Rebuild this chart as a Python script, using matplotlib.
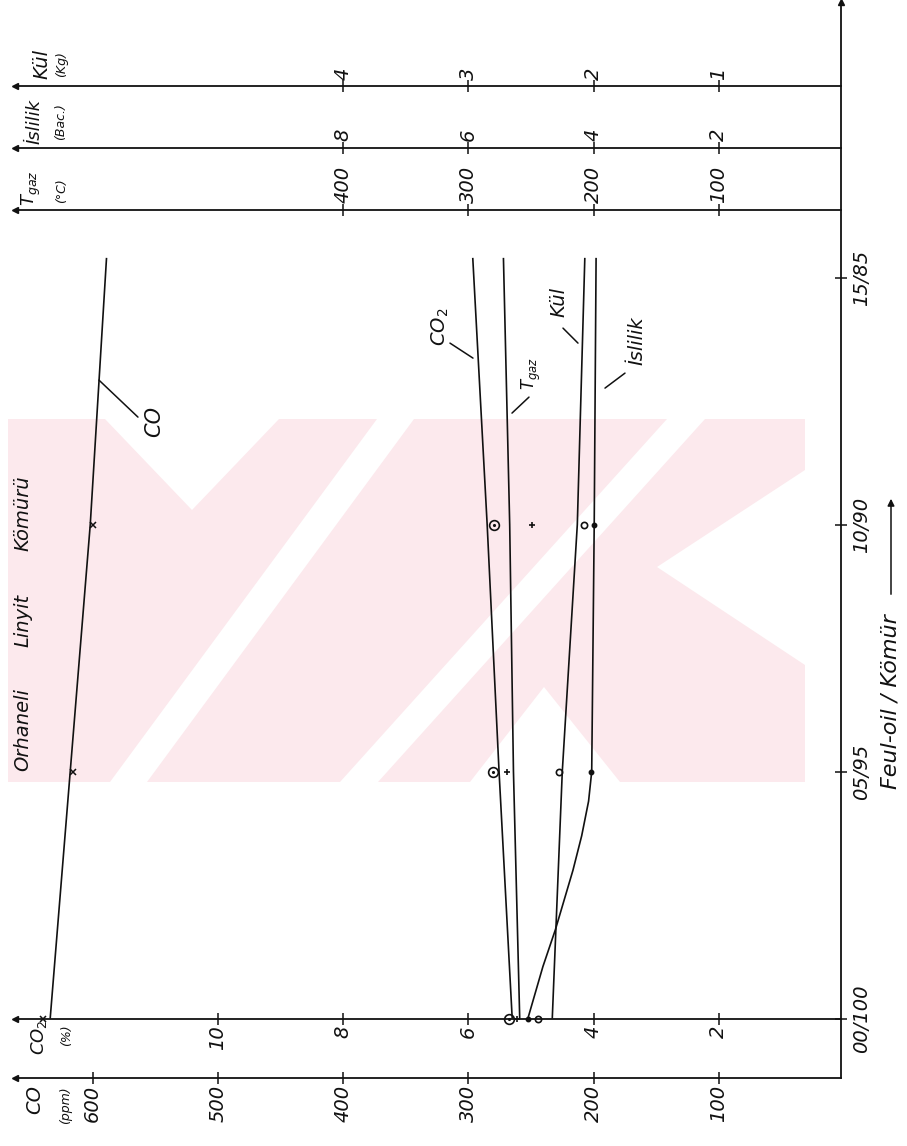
import matplotlib
matplotlib.use("Agg")
import matplotlib.pyplot as plt
from matplotlib.patches import Polygon, FancyArrowPatch
import numpy as np

# ---------------- data ----------------
ratio_ticks = [0, 5, 10, 15]                       # feul-oil share (%)
ratio_labels = ["00/100", "05/95", "10/90", "15/85"]

line_f = [0, 5, 10, 15.4]                          # curve support (feul-oil %)
co_line = [634, 618, 602, 589]                     # CO (ppm)
co2_line = [5.30, 5.51, 5.70, 5.93]                # CO2 (%)
tgaz_line = [259, 264, 267, 272]                   # Tgaz (°C)
kul_line = [2.33, 2.25, 2.13, 2.07]                # Kül (kg)
isl_f = [0, 1.05, 1.8, 3.0, 3.7, 4.4, 5, 10, 15.4]
isl_line = [5.05, 4.81, 4.61, 4.33, 4.19, 4.08, 4.03, 3.99, 3.96]  # İslilik (Bac.)

pt_f = [0, 5, 10]                                  # measured points
co_pts = [640, 616, 600]
co2_pts = [5.35, 5.61, 5.59]
tgaz_pts = [261, 269, 249]
kul_pts = [2.44, 2.28, 2.08]
isl_pts = [5.05, 4.04, 3.99]

co_ticks = [100, 200, 300, 400, 500, 600]
co2_ticks = [2, 4, 6, 8, 10]
tgaz_ticks = [100, 200, 300, 400]
isl_ticks = [2, 4, 6, 8]
kul_ticks = [1, 2, 3, 4]

# scale factors onto the common (ppm-equivalent) horizontal scale
CO2_K, TGAZ_K, ISL_K, KUL_K = 50.0, 1.0, 50.0, 100.0

# ---------------- figure ----------------
W, H = 907, 1146
fig = plt.figure(figsize=(W / 100, H / 100), dpi=100)
fig.patch.set_facecolor("white")

def P(pts):
    return [(x / W, 1 - y / H) for x, y in pts]

# faint pink background watermark of the scanned page
PINK = "#fce9ed"
fig.add_artist(Polygon(P([(8, 419), (805, 419), (805, 782), (8, 782)]),
                       closed=True, transform=fig.transFigure, fc=PINK, ec="none", zorder=-10))
for shape in [
    [(110, 782), (147, 782), (414, 419), (377, 419)],
    [(340, 782), (378, 782), (705, 419), (667, 419)],
    [(105, 419), (279, 419), (192, 510)],
    [(470, 782), (620, 782), (544, 687)],
    [(805, 470), (805, 665), (657, 567)],
]:
    fig.add_artist(Polygon(P(shape), closed=True, transform=fig.transFigure,
                           fc="white", ec="none", zorder=-9))

def px(x0, y0, x1, y1):
    return [x0 / W, 1 - y1 / H, (x1 - x0) / W, (y1 - y0) / H]

ax = fig.add_axes(px(15, 2, 841, 1078))
ax.set_facecolor("none")
ax.set_xlim(662.1, 2.4)
ax.set_ylim(-1.204, 20.58)

INK = "#111111"
LW = 1.3
for s in ["top", "left"]:
    ax.spines[s].set_visible(False)
for s in ["right", "bottom"]:
    ax.spines[s].set_linewidth(LW)
    ax.spines[s].set_color(INK)

tick_kw = dict(direction="inout", length=8, width=1.1, colors=INK)
lab_kw = dict(rotation=90, fontstyle="italic", fontsize=14, color=INK)

ax.set_xticks(co_ticks, labels=[str(v) for v in co_ticks], **lab_kw)
ax.tick_params(axis="x", pad=1, **tick_kw)

ax.yaxis.tick_right()
ax.set_yticks(ratio_ticks, labels=ratio_labels, va="center", **lab_kw)
ax.tick_params(axis="y", pad=4, **tick_kw)

# secondary horizontal scales
def add_sec(loc, k, ticks):
    sec = ax.secondary_xaxis(loc, functions=(lambda u, k=k: u / k, lambda v, k=k: v * k),
                             transform=ax.transData)
    sec.set_xticks(ticks, labels=[str(v) for v in ticks], **lab_kw)
    sec.tick_params(axis="x", pad=1, **tick_kw)
    for s in sec.spines.values():
        s.set_linewidth(LW)
        s.set_color(INK)
    return sec

LOC_CO2, LOC_T, LOC_I, LOC_K = 0.0, 16.36, 17.63, 18.87
add_sec(LOC_CO2, CO2_K, co2_ticks)
add_sec(LOC_T, TGAZ_K, tgaz_ticks)
add_sec(LOC_I, ISL_K, isl_ticks)
add_sec(LOC_K, KUL_K, kul_ticks)

# arrow heads on the axis lines
for yv in [ax.get_ylim()[0], LOC_CO2, LOC_T, LOC_I, LOC_K]:
    ax.plot([ax.get_xlim()[0]], [yv], marker="<", ms=5, color=INK, clip_on=False)
ax.plot([ax.get_xlim()[1]], [ax.get_ylim()[1]], marker="^", ms=5, color=INK, clip_on=False)

# ---------------- curves ----------------
lkw = dict(color=INK, lw=1.2, solid_capstyle="butt")
ax.plot(co_line, line_f, **lkw)
ax.plot(np.array(co2_line) * CO2_K, line_f, **lkw)
ax.plot(np.array(tgaz_line) * TGAZ_K, line_f, **lkw)
ax.plot(np.array(kul_line) * KUL_K, line_f, **lkw)
ax.plot(np.array(isl_line) * ISL_K, isl_f, **lkw)

# measured points
ax.plot(co_pts, pt_f, ls="none", marker="x", ms=5, mew=1.1, color=INK)
ax.plot(np.array(co2_pts) * CO2_K, pt_f, ls="none", marker="o", ms=7, mfc="none", mew=1.2, color=INK)
ax.plot(np.array(co2_pts) * CO2_K, pt_f, ls="none", marker=".", ms=2.5, color=INK)
ax.plot(np.array(tgaz_pts) * TGAZ_K, pt_f, ls="none", marker="+", ms=5, mew=1.2, color=INK)
ax.plot(np.array(kul_pts) * KUL_K, pt_f, ls="none", marker="o", ms=4.5, mfc="none", mew=1.2, color=INK)
ax.plot(np.array(isl_pts) * ISL_K, pt_f, ls="none", marker="o", ms=3.2, color=INK)

# ---------------- curve labels with leaders ----------------
def u(xp):
    return (844 - xp) / 1.252

def f(yp):
    return (1018.5 - yp) / 49.4

def label(txt, tx, ty, x0, y0, x1, y1, fs=14):
    ax.annotate("", xy=(u(x0), f(y0)), xytext=(u(x1), f(y1)),
                arrowprops=dict(arrowstyle="-", color=INK, lw=1.1, shrinkA=0, shrinkB=0))
    ax.text(u(tx), f(ty), txt, rotation=90, ha="center", va="center",
            fontstyle="italic", fontsize=fs, color=INK)

label("CO", 154, 421, 99, 380, 138, 417, fs=15)
label("CO$_2$", 440, 327, 473, 358, 450, 343)
label("T$_{gaz}$", 531, 373, 512, 413, 529, 397, fs=12)
label("Kül", 559, 302, 578, 343, 563, 328)
label("İslilik", 637, 341, 605, 388, 625, 373)

# title inside plot
for txt, yc in [("Orhaneli", 730), ("Linyit", 620), ("Kömürü", 513)]:
    fig.text(23 / W, 1 - yc / H, txt, rotation=90, ha="center", va="center",
             fontstyle="italic", fontsize=14, color=INK)

# axis names
def ftxt(txt, xc, yc, fs):
    fig.text(xc / W, 1 - yc / H, txt, rotation=90, ha="center", va="center",
             fontstyle="italic", fontsize=fs, color=INK)

ftxt("Kül", 42, 64, 14)
ftxt("(Kg)", 62, 64, 9)
ftxt("İslilik", 35, 122, 13)
ftxt("(Bac.)", 61, 122, 9)
ftxt("T$_{gaz}$", 31, 188, 13)
ftxt("(°C)", 62, 191, 9)
ftxt("CO$_2$", 39, 1037, 13)
ftxt("(%)", 67, 1035, 9)
ftxt("CO", 35, 1100, 14)
ftxt("(ppm)", 66, 1105, 9)

# x-axis name with arrow
ftxt("Feul-oil / Kömür", 891, 702, 16)
fig.add_artist(FancyArrowPatch(
    (891 / W, 1 - 597 / H), (891 / W, 1 - 496 / H), transform=fig.transFigure,
    arrowstyle="-|>", mutation_scale=10, color=INK, lw=1.1))

fig.savefig("out.png", dpi=100, facecolor="white")
